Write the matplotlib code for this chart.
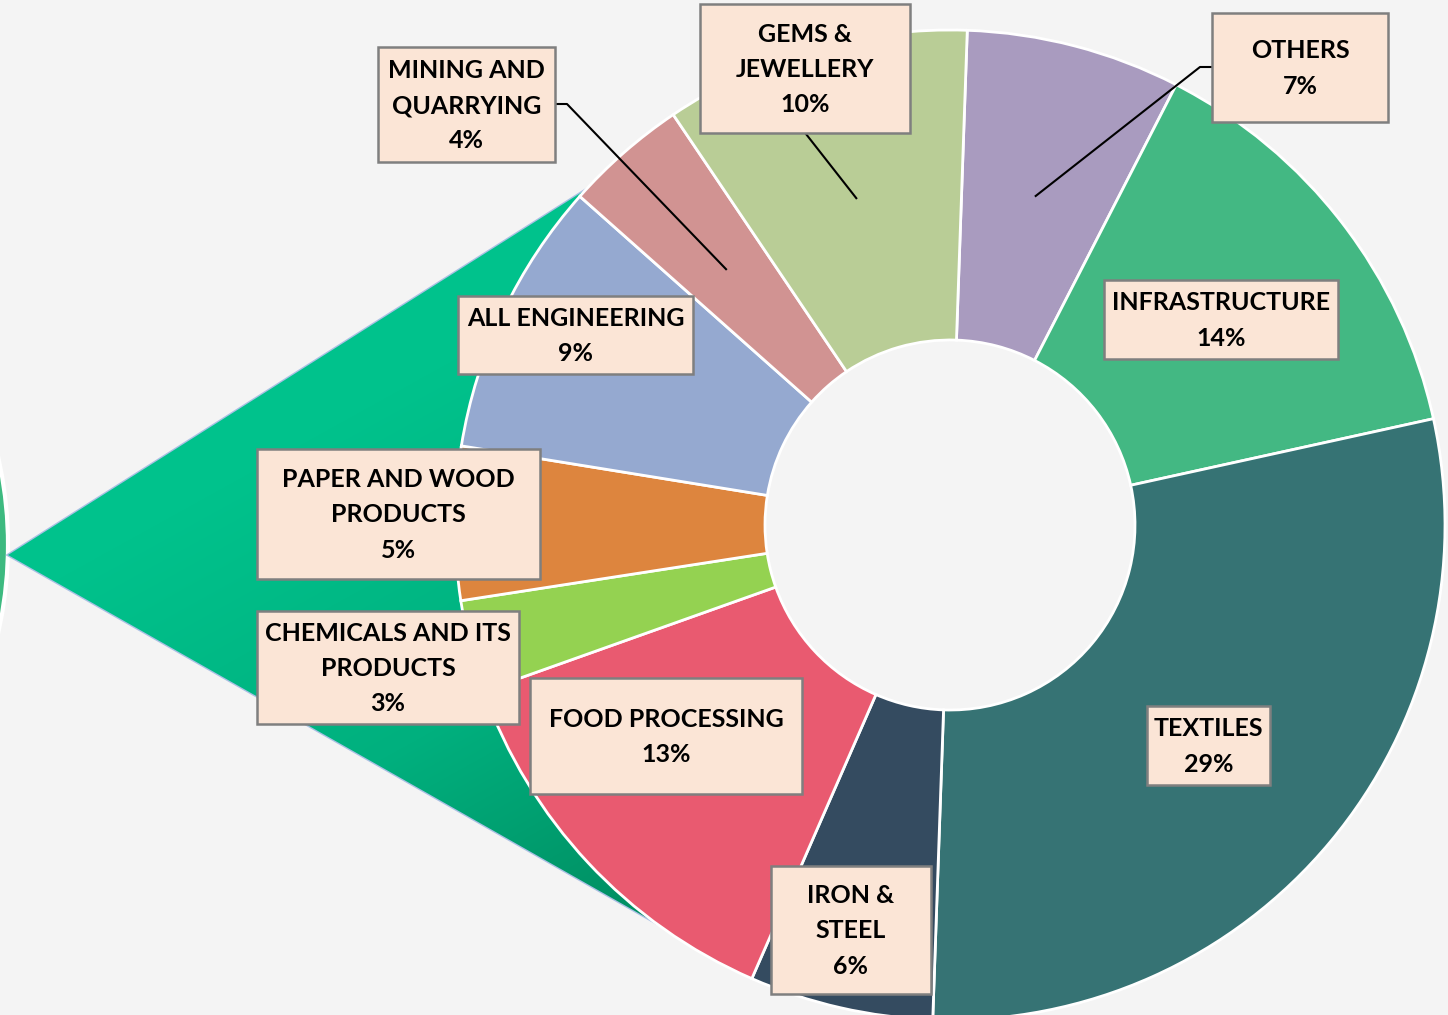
import numpy as np
import matplotlib
matplotlib.use('Agg')
import matplotlib.pyplot as plt
from matplotlib.patches import Polygon, Circle, Rectangle
from matplotlib.colors import LinearSegmentedColormap

# 1) dados do gráfico (sentido horário a partir do topo)
sectors = ['OTHERS', 'INFRASTRUCTURE', 'TEXTILES', 'IRON &\nSTEEL', 'FOOD PROCESSING',
           'CHEMICALS AND ITS\nPRODUCTS', 'PAPER AND WOOD\nPRODUCTS', 'ALL ENGINEERING',
           'MINING AND\nQUARRYING', 'GEMS &\nJEWELLERY']
shares = [7, 14, 29, 6, 13, 3, 5, 9, 4, 10]
colors = ['#A99BBF', '#43B883', '#367374', '#344B60', '#E95A70',
          '#94D251', '#DD853E', '#95A9D0', '#D19392', '#B9CD96']

# 2) layout (pixels, y para baixo)
W, H = 1448, 1015
center = (950, 525)
r_out, r_in = 495, 185
boxes = [(1212, 13, 1388, 122), (1104, 280, 1338, 359), (1147, 706, 1270, 785),
         (771, 866, 931, 994), (530, 678, 802, 794), (257, 611, 519, 724),
         (257, 449, 540, 579), (458, 296, 693, 374), (378, 47, 555, 162),
         (700, 4, 910, 133)]
# índice da fatia -> pontos da linha guia saindo da caixa
leaders = {0: [(1212, 67), (1200, 67)], 8: [(555, 104), (567, 104)], 9: [(806, 134)]}

fig = plt.figure(figsize=(W / 100, H / 100), dpi=100)
fig.patch.set_facecolor('#F4F4F4')
ax = fig.add_axes([0, 0, 1, 1])
ax.set_facecolor('#F4F4F4')

# 3) formas decorativas ao fundo
ax.add_patch(Circle((-390, 545), 398, facecolor='#3DBA80', edgecolor='white', lw=3, zorder=1))
tri = Polygon([(8, 555), (598, 182), (700, 948)], closed=True, facecolor='none',
              edgecolor='#A9C0E4', lw=2, zorder=2)
ax.add_patch(tri)
gx, gy = np.meshgrid(np.linspace(0, 1, 200), np.linspace(0, 1, 200))
grad = np.clip(gx * 0.5 + gy * 1.0 - 0.55, 0, 1) / 0.95
cmap = LinearSegmentedColormap.from_list('tri', ['#00C28C', '#00B07E', '#00875C'])
im = ax.imshow(grad, extent=(8, 700, 948, 182), cmap=cmap, vmin=0, vmax=1,
               zorder=2, aspect='auto', interpolation='bilinear')
im.set_clip_path(tri)

# 4) rosca (eixo y invertido -> sentido anti-horário nos dados = horário na tela)
wedges, _ = ax.pie(shares, colors=colors, startangle=-88, counterclock=True,
                   center=center, radius=r_out,
                   wedgeprops=dict(width=r_out - r_in, edgecolor='white', linewidth=2))
for w in wedges:
    w.set_zorder(3)

ax.set_xlim(0, W)
ax.set_ylim(H, 0)
ax.set_aspect('equal')
ax.axis('off')

# 5) rótulos em caixas
for i, (name, val) in enumerate(zip(sectors, shares)):
    x0, y0, x1, y1 = boxes[i]
    ax.add_patch(Rectangle((x0, y0), x1 - x0, y1 - y0, facecolor='#FBE5D6',
                           edgecolor='#7F7F7F', lw=1.8, zorder=5))
    ax.text((x0 + x1) / 2, (y0 + y1) / 2 + 1, f'{name}\n{val}%', ha='center', va='center',
            fontsize=18, fontweight='bold', family=['Lato', 'DejaVu Sans'],
            linespacing=1.65, color='black', zorder=6)
    if i in leaders:
        w = wedges[i]
        mid = np.deg2rad((w.theta1 + w.theta2) / 2)
        rm = (r_out + r_in) / 2
        end = (center[0] + rm * np.cos(mid), center[1] + rm * np.sin(mid))
        pts = leaders[i] + [end]
        ax.plot([p[0] for p in pts], [p[1] for p in pts], color='black', lw=1.5, zorder=4)

plt.savefig('out.png', dpi=100, facecolor=fig.get_facecolor())
